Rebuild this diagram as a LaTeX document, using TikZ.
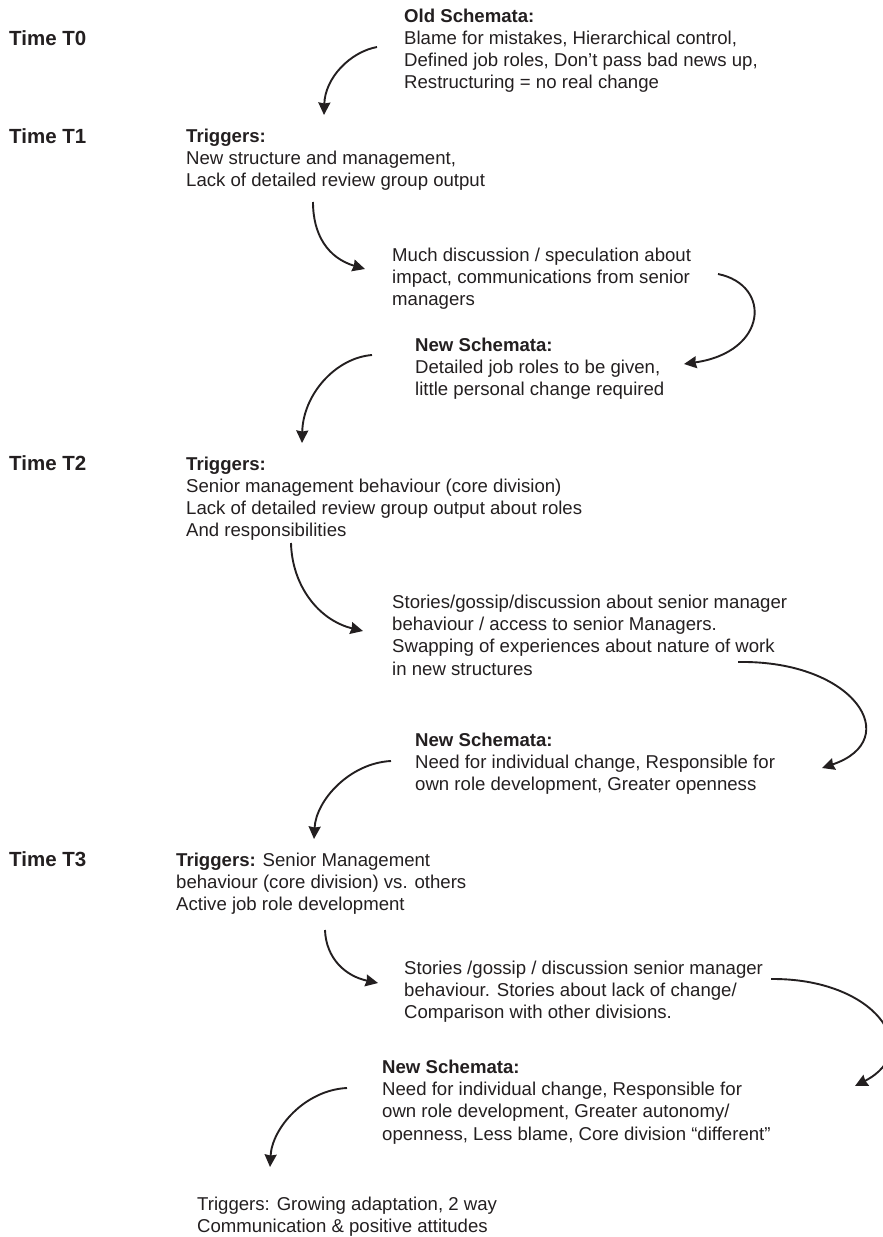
\documentclass[tikz,border=0pt]{standalone}
\usepackage{fontspec}
\setmainfont{Liberation Sans}
\usetikzlibrary{arrows.meta}
\definecolor{ink}{HTML}{231F20}
% a block of left-aligned lines whose baseline is that of its first line
\newcommand{\blk}[1]{\begin{tabular}[t]{@{}l@{}}#1\end{tabular}}

\begin{document}
\begin{tikzpicture}[x=1pt,y=-1pt,
  txt/.style={anchor=base west, inner sep=0pt, text=ink,
    font=\fontsize{18.6}{22.2}\selectfont},
  timelbl/.style={anchor=base west, inner sep=0pt, text=ink,
    font=\fontsize{20.5}{24}\selectfont\bfseries},
  flow/.style={draw=ink, line width=1.9pt,
    -{Stealth[length=12.5pt,width=12pt,inset=1pt]}}]

\useasboundingbox (0,0) rectangle (883,1237);

% time stamps
\node[timelbl] (t0) at (9,45.5)  {Time T0};
\node[timelbl] (t1) at (9,143)   {Time T1};
\node[timelbl] (t2) at (9,470.5) {Time T2};
\node[timelbl] (t3) at (9,866.5) {Time T3};

% text blocks
\node[txt] (old) at (404,22) {\blk{\textbf{Old Schemata:}\\
  Blame for mistakes, Hierarchical control,\\
  Defined job roles, Don’t pass bad news up,\\
  Restructuring = no real change}};

\node[txt] (trig1) at (186,142.5) {\blk{\textbf{Triggers:}\\
  New structure and management,\\
  Lack of detailed review group output}};

\node[txt] (disc1) at (392,261) {\blk{Much discussion / speculation about\\
  impact, communications from senior\\
  managers}};

\node[txt] (new1) at (415,351) {\blk{\textbf{New Schemata:}\\
  Detailed job roles to be given,\\
  little personal change required}};

\node[txt] (trig2) at (186,470) {\blk{\textbf{Triggers:}\\
  Senior management behaviour (core division)\\
  Lack of detailed review group output about roles\\
  And responsibilities}};

\node[txt] (disc2) at (392,608.5) {\blk{Stories/gossip/discussion about senior manager\\
  behaviour / access to senior Managers.\\
  Swapping of experiences about nature of work\\
  in new structures}};

\node[txt] (new2) at (415,746.5) {\blk{\textbf{New Schemata:}\\
  Need for individual change, Responsible for\\
  own role development, Greater openness}};

\node[txt] (trig3) at (176,866) {\blk{\textbf{Triggers:} Senior Management\\
  behaviour (core division) vs. others\\
  Active job role development}};

\node[txt] (disc3) at (404,974.5) {\blk{Stories /gossip / discussion senior manager\\
  behaviour. Stories about lack of change/\\
  Comparison with other divisions.}};

\node[txt] (new3) at (382,1073.5) {\blk{\textbf{New Schemata:}\\
  Need for individual change, Responsible for\\
  own role development, Greater autonomy/\\
  openness, Less blame, Core division “different”}};

\node[txt] (trig4) at (197,1210.5) {\blk{Triggers: Growing adaptation, 2 way\\
  Communication \& positive attitudes}};

% connector end points
\coordinate (aS) at (377,47);   \coordinate (aE) at (324,115);
\coordinate (bS) at (313,202);  \coordinate (bE) at (365,269);
\coordinate (cS) at (718,274);  \coordinate (cE) at (684,364);
\coordinate (dS) at (372,355);  \coordinate (dE) at (302,443);
\coordinate (eS) at (291,543);  \coordinate (eE) at (363,631);
\coordinate (fS) at (738,662);  \coordinate (fE) at (822,768);
\coordinate (gS) at (391,761);  \coordinate (gE) at (314,839);
\coordinate (hS) at (325,930);  \coordinate (hE) at (378,983);
\coordinate (iS) at (771,979);  \coordinate (iE) at (855,1086);
\coordinate (jS) at (347,1088); \coordinate (jE) at (270,1167);

% curved arrows
\draw[flow] (aS) .. controls (350,52) and (325,78) .. (aE);
\draw[flow] (bS) .. controls (313,235) and (328,258) .. (bE);
\draw[flow] (cS) .. controls (772,285) and (768,352) .. (cE);
\draw[flow] (dS) .. controls (335,358) and (303,395) .. (dE);
\draw[flow] (eS) .. controls (292,585) and (318,620) .. (eE);
\draw[flow] (fS) .. controls (855,660) and (905,740) .. (fE);
\draw[flow] (gS) .. controls (350,763) and (316,800) .. (gE);
\draw[flow] (hS) .. controls (326,958) and (345,976) .. (hE);
\draw[flow] (iS) .. controls (875,978) and (925,1050) .. (iE);
\draw[flow] (jS) .. controls (305,1090) and (272,1128) .. (jE);
\end{tikzpicture}
\end{document}
